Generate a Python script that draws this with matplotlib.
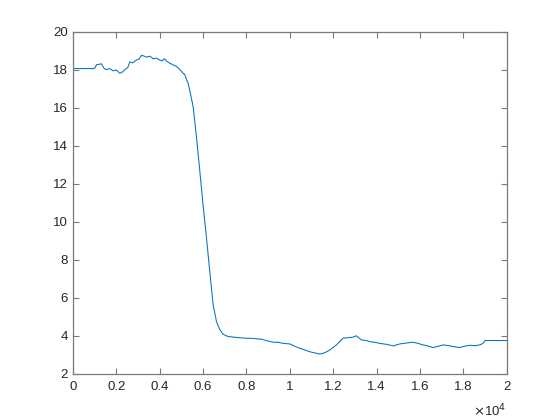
import numpy as np
import matplotlib
matplotlib.use('Agg')
import matplotlib.pyplot as plt

# values
xs = [0, 1000, 1090, 1320, 1450, 1550, 1700, 1860, 2000, 2170, 2300, 2400,
      2530, 2630, 2760, 2930, 3050, 3170, 3300, 3400, 3550, 3700, 3850, 4000,
      4120, 4220, 4350, 4470, 4620, 4780, 4930, 5080, 5160, 5240, 5310, 5390,
      5545, 5700, 5850, 6000, 6160, 6310, 6465, 6620, 6770, 6925, 7080, 7160,
      7390, 7650, 7990, 8200, 8450, 8700, 8910, 9230, 9450, 9690, 10000,
      10230, 10460, 10700, 10920, 11150, 11380, 11600, 11840, 12150, 12450,
      12700, 12920, 13070, 13300, 13530, 13690, 13900, 14150, 14450, 14760,
      15070, 15380, 15680, 15900, 16140, 16400, 16600, 16850, 17060, 17370,
      17600, 17830, 18050, 18300, 18550, 18760, 18900, 18990, 20000]
ys = [18.05, 18.05, 18.25, 18.3, 18.05, 18.0, 18.05, 17.93, 17.98, 17.8,
      17.88, 18.0, 18.1, 18.4, 18.35, 18.5, 18.55, 18.75, 18.7, 18.65, 18.7,
      18.57, 18.6, 18.5, 18.45, 18.57, 18.42, 18.33, 18.25, 18.16, 18.0, 17.8,
      17.75, 17.46, 17.3, 16.9, 16.05, 14.45, 12.7, 10.9, 9.16, 7.4, 5.65,
      4.75, 4.33, 4.08, 4.0, 3.96, 3.93, 3.9, 3.87, 3.87, 3.84, 3.82, 3.75,
      3.66, 3.66, 3.6, 3.57, 3.45, 3.34, 3.25, 3.16, 3.1, 3.04, 3.1, 3.25,
      3.52, 3.87, 3.9, 3.93, 4.0, 3.78, 3.75, 3.69, 3.66, 3.6, 3.55, 3.47,
      3.57, 3.62, 3.66, 3.6, 3.52, 3.45, 3.38, 3.45, 3.52, 3.47, 3.42, 3.38,
      3.45, 3.5, 3.48, 3.52, 3.6, 3.75, 3.75]

xticks = np.arange(0, 20001, 2000)
xticklabels = ['0', '0.2', '0.4', '0.6', '0.8', '1', '1.2', '1.4', '1.6', '1.8', '2']
yticks = np.arange(2, 21, 2)

plt.rcParams['font.family'] = ['Liberation Sans', 'DejaVu Sans']

fig = plt.figure(figsize=(5.6, 4.2), dpi=100)
ax = fig.add_axes([0.13, 0.11, 0.775, 0.815])

ax.plot(xs, ys, color='#0072BD', linewidth=0.75)

ax.set_xlim(0, 20000)
ax.set_ylim(2, 20)
ax.set_xticks(xticks)
ax.set_xticklabels(xticklabels)
ax.set_yticks(yticks)

for s in ax.spines.values():
    s.set_color('#7a7a7a')
    s.set_linewidth(0.9)
ax.tick_params(direction='in', length=4, width=0.8, color='#7a7a7a',
               labelcolor='#262626', labelsize=9.5, top=True, right=True)
ax.tick_params(axis='x', pad=5)

ax.text(1.0, -0.085, r'$\times$10$^4$', transform=ax.transAxes, ha='right', va='top',
        fontsize=9.5, color='#262626')

fig.savefig('out.png', dpi=100)
